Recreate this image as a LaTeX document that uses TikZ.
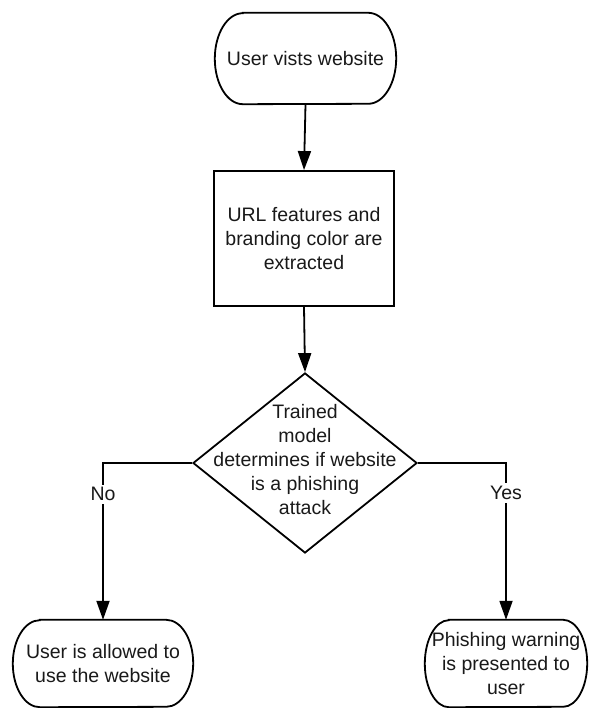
\documentclass[tikz,border=0pt]{standalone}
\usepackage{fontspec}
\setmainfont{Liberation Sans}
\usetikzlibrary{shapes.geometric,arrows.meta}
\newcommand\termpath[3]{%
  \draw[termline] ([xshift=#2]#1.north west) -- ([xshift=-#2]#1.north east)
    arc[start angle=90,end angle=-90,x radius=#2,y radius=#3]
    -- ([xshift=#2]#1.south west)
    arc[start angle=270,end angle=90,x radius=#2,y radius=#3] -- cycle;}
\begin{document}
\begin{tikzpicture}[x=1pt,y=-1pt,
  txt/.style={font=\fontsize{19.5}{24}\selectfont, align=center, inner sep=0pt, text=black!90},
  termline/.style={line width=1.8pt},
  term/.style={txt},
  proc/.style={txt, draw, line width=1.8pt},
  dec/.style={draw, diamond, line width=1.8pt, inner sep=0pt},
  conn/.style={line width=1.8pt, -{Triangle[length=19pt,width=13pt]}},
  lbl/.style={txt, fill=white, inner sep=3pt}]
\useasboundingbox (0,0) rectangle (589,708);

\node[term, minimum width=181pt, minimum height=91pt] (start) at (305.5,58.5) {User vists website};
\termpath{start}{28pt}{45.5pt}
\node[proc, minimum width=180pt, minimum height=135pt] (proc) at (304,238.5) {URL features and\\branding color are\\extracted};
\node[dec, minimum width=224pt, minimum height=180pt] (dec) at (305,463) {};
\node[txt] (dectext) at (305,460) {Trained\\model\\determines if website\\is a phishing\\attack};
\node[term, minimum width=180pt, minimum height=87pt] (allow) at (103,663.5) {User is allowed to\\use the website};
\termpath{allow}{27pt}{43.5pt}
\node[term, minimum width=162pt, minimum height=87pt] (warn) at (506,663.5) {Phishing warning\\is presented to\\user};
\termpath{warn}{24pt}{43.5pt}

\draw[conn] (start.south) -- (proc.north);
\draw[conn] (proc.south) -- (dec.north);
\draw[conn] (dec.west) -| node[lbl, pos=0.6] (no) {No} (allow.north);
\draw[conn] (dec.east) -| node[lbl, pos=0.595] (yes) {Yes} (warn.north);
\end{tikzpicture}
\end{document}
